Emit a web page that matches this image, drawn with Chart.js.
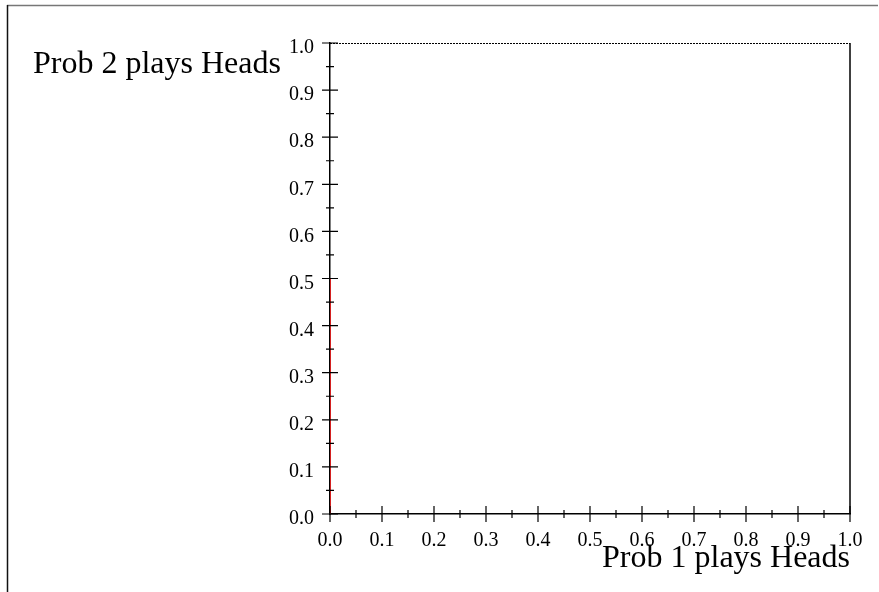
<!DOCTYPE html>
<html>
<head>
<meta charset="utf-8">
<title>Best response</title>
<script src="https://cdn.jsdelivr.net/npm/chart.js@4/dist/chart.umd.min.js"></script>
<style>
  body { margin: 0; background: #fff; }
  canvas { display: block; }
</style>
</head>
<body>
<canvas id="br" width="879" height="592"></canvas>
<script>
// best response of player 1 (drawn part)
var p1Heads = [0, 0];
var p2Heads = [0, 0.5];

// axis ticks, labels every 0.1, small marks in between
var tickStep = 0.05;
var xTitle = 'Prob 1 plays Heads';
var yTitle = 'Prob 2 plays Heads';

var serif = '"Liberation Serif", "Times New Roman", serif';

// crossing tick marks + box + axis titles
var decor = {
  id: 'decor',
  beforeDraw: function (chart) {
    var c = chart.ctx;
    c.save();
    c.strokeStyle = '#777';
    c.lineWidth = 1.5;
    c.beginPath();
    c.moveTo(7, 5.5);
    c.lineTo(878, 5.5);
    c.stroke();
    c.strokeStyle = '#111';
    c.beginPath();
    c.moveTo(7.5, 5);
    c.lineTo(7.5, 592);
    c.stroke();
    c.restore();
  },
  afterDraw: function (chart) {
    var c = chart.ctx, a = chart.chartArea;
    var xs = chart.scales.x, ys = chart.scales.y;
    c.save();
    c.strokeStyle = '#000';
    c.lineWidth = 1.2;
    // top (dotted) and right edges of the box
    c.setLineDash([2, 1]);
    c.beginPath();
    c.moveTo(a.left, a.top + 0.5);
    c.lineTo(a.right, a.top + 0.5);
    c.stroke();
    c.setLineDash([]);
    c.lineWidth = 1.5;
    c.beginPath();
    c.moveTo(a.right, a.top);
    c.lineTo(a.right, a.bottom);
    c.stroke();

    c.lineWidth = 1.2;
    c.beginPath();
    xs.ticks.forEach(function (t, i) {
      var px = xs.getPixelForValue(t.value);
      var big = i % 2 === 0;
      c.moveTo(px, a.bottom - (big ? 8 : 4));
      c.lineTo(px, a.bottom + (big ? 8 : 4));
    });
    ys.ticks.forEach(function (t, i) {
      var py = ys.getPixelForValue(t.value);
      var big = i % 2 === 0;
      c.moveTo(a.left - (big ? 8 : 4), py);
      c.lineTo(a.left + (big ? 8 : 4), py);
    });
    c.stroke();

    c.fillStyle = '#000';
    c.font = '32px ' + serif;
    c.textBaseline = 'alphabetic';
    c.textAlign = 'left';
    c.fillText(yTitle, 33, 73);
    c.textAlign = 'right';
    c.fillText(xTitle, a.right, 567);
    c.restore();
  }
};

function majorOnly(v, i) {
  return i % 2 === 0 ? v.toFixed(1) : '';
}

new Chart(document.getElementById('br'), {
  type: 'scatter',
  data: {
    datasets: [{
      data: p1Heads.map(function (x, i) { return { x: x, y: p2Heads[i] }; }),
      showLine: true,
      borderColor: '#d42020',
      borderWidth: 2,
      pointRadius: 0
    }]
  },
  options: {
    responsive: false,
    animation: false,
    layout: { padding: { left: 0, top: 43, right: 29, bottom: 0 } },
    plugins: { legend: { display: false }, tooltip: { enabled: false } },
    scales: {
      x: {
        type: 'linear', min: 0, max: 1,
        afterFit: function (s) { s.height = 78; },
        grid: { display: false, drawTicks: false },
        border: { display: true, color: '#000', width: 1.5 },
        ticks: {
          stepSize: tickStep, autoSkip: false, maxRotation: 0,
          padding: 15, color: '#000',
          font: { family: serif, size: 20 },
          callback: majorOnly
        }
      },
      y: {
        type: 'linear', min: 0, max: 1,
        afterFit: function (s) { s.width = 330; },
        grid: { display: false, drawTicks: false },
        border: { display: true, color: '#000', width: 1.5 },
        ticks: {
          stepSize: tickStep, autoSkip: false,
          padding: 16, labelOffset: 5, color: '#000',
          font: { family: serif, size: 20 },
          callback: majorOnly
        }
      }
    }
  },
  plugins: [decor]
});
</script>
</body>
</html>
